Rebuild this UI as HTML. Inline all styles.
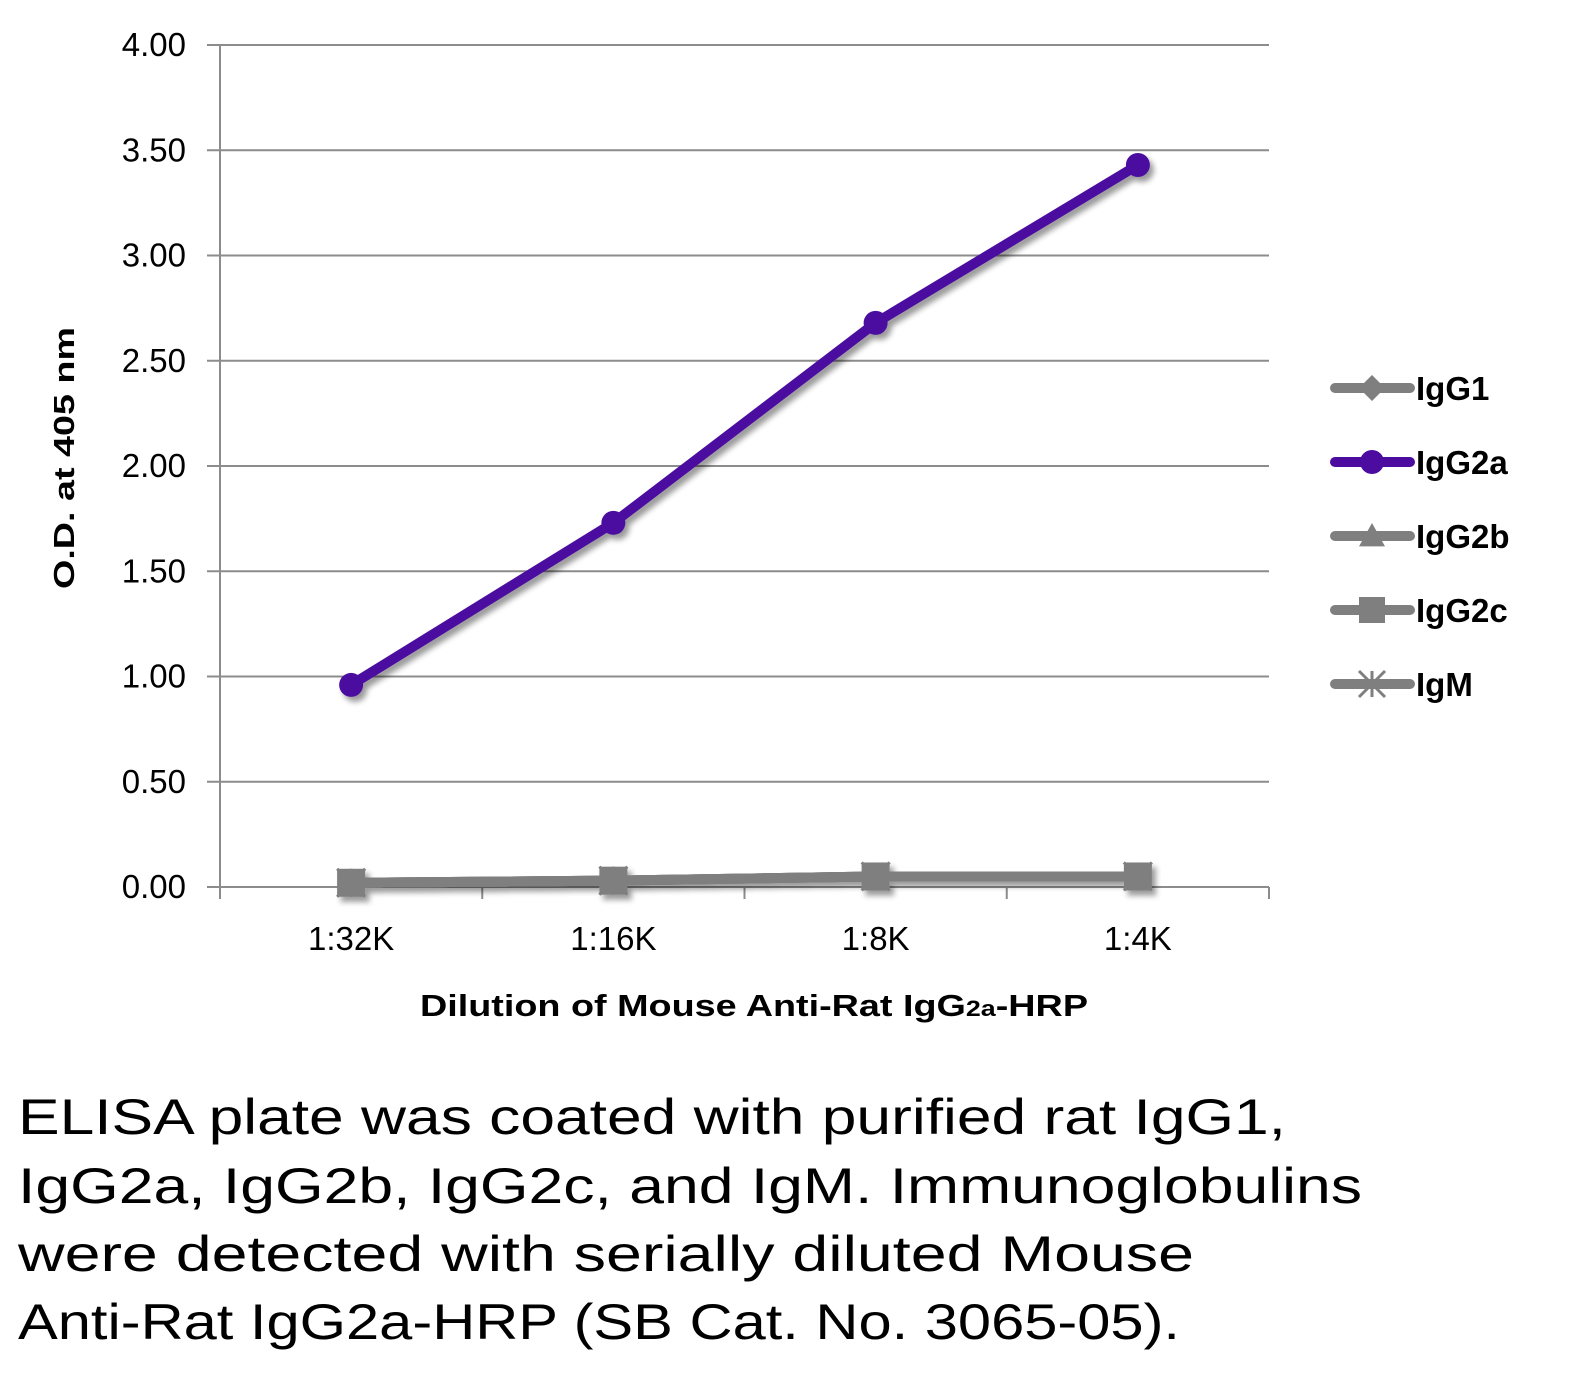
<!DOCTYPE html>
<html><head><meta charset="utf-8"><style>
html,body{margin:0;padding:0;background:#fff;}
svg{display:block;font-family:"Liberation Sans",sans-serif;}
</style></head><body>
<svg id="chart" width="1596" height="1392" viewBox="0 0 1596 1392">
<defs><filter id="sh" x="-50%" y="-50%" width="200%" height="200%"><feGaussianBlur in="SourceAlpha" stdDeviation="3"/><feOffset dx="4" dy="5"/><feComponentTransfer><feFuncA type="linear" slope="0.4"/></feComponentTransfer><feMerge><feMergeNode/><feMergeNode in="SourceGraphic"/></feMerge></filter></defs>
<g id="grid"></g>
<g id="yticks"></g>
<g id="xaxis"></g>
<g id="series" filter="url(#sh)"></g>
<text transform="translate(74,458) rotate(-90)" text-anchor="middle" font-size="29" font-weight="bold" textLength="262" lengthAdjust="spacingAndGlyphs">O.D. at 405 nm</text>
<text x="754" y="1016" text-anchor="middle" font-size="31" font-weight="bold" textLength="668" lengthAdjust="spacingAndGlyphs">Dilution of Mouse Anti-Rat IgG<tspan font-size="22">2a</tspan>-HRP</text>
<g id="legend"></g>
<g font-size="50" fill="#000">
<text x="18" y="1134" textLength="1268" lengthAdjust="spacingAndGlyphs">ELISA plate was coated with purified rat IgG1,</text>
<text x="18" y="1203" textLength="1344" lengthAdjust="spacingAndGlyphs">IgG2a, IgG2b, IgG2c, and IgM.  Immunoglobulins</text>
<text x="18" y="1271" textLength="1176" lengthAdjust="spacingAndGlyphs">were detected with serially diluted Mouse</text>
<text x="18" y="1339" textLength="1162" lengthAdjust="spacingAndGlyphs">Anti-Rat IgG2a-HRP (SB Cat. No. 3065-05).</text>
</g>
</svg>
<script>
const categories=["1:32K","1:16K","1:8K","1:4K"];
const yTicks=[0,0.5,1,1.5,2,2.5,3,3.5,4];
const seriesNames=["IgG1","IgG2a","IgG2b","IgG2c","IgM"];
const igg1=[0.02,0.03,0.05,0.05];
const igg2a=[0.96,1.73,2.68,3.43];
const igg2b=[0.02,0.03,0.05,0.05];
const igg2c=[0.02,0.03,0.05,0.05];
const igm=[0.02,0.03,0.05,0.05];
const NS="http://www.w3.org/2000/svg";
const X0=220,X1=1269,Y0=887,Y4=45;
const band=(X1-X0)/categories.length;
const xs=i=>X0+band*(i+0.5);
const ys=v=>Y0-(v/4)*(Y0-Y4);
function mk(t,a,p){const e=document.createElementNS(NS,t);for(const k in a)e.setAttribute(k,a[k]);p.appendChild(e);return e;}
const grid=document.getElementById('grid'),yt=document.getElementById('yticks'),xa=document.getElementById('xaxis');
yTicks.forEach(v=>{
 const l=mk('line',{x1:207,x2:X1,y1:ys(v),y2:ys(v),stroke:'#8c8c8c','stroke-width':2},grid);
 
 
 const t=mk('text',{x:186,y:ys(v)+11,'text-anchor':'end','font-size':33},yt);
 t.textContent=v.toFixed(2);
 
 
});
mk('line',{x1:X0,x2:X0,y1:Y4,y2:Y0,stroke:'#8c8c8c','stroke-width':2},yt);
for(let i=0;i<=categories.length;i++){mk('line',{x1:X0+band*i,x2:X0+band*i,y1:Y0,y2:Y0+12,stroke:'#8c8c8c','stroke-width':2},xa);}
categories.forEach((c,i)=>{
 const t=mk('text',{x:xs(i),y:950,'text-anchor':'middle','font-size':33},xa);
 t.textContent=c;
 
 
});
const sg=document.getElementById('series');
const gray='#7f7f7f',purple='#4b0c9f';
function marker(type,x,y,col,p,s){
 if(type==='circle')return mk('circle',{cx:x,cy:y,r:s,fill:col},p);
 if(type==='square')return mk('rect',{x:x-s,y:y-s,width:2*s,height:2*s,fill:col},p);
 if(type==='diamond')return mk('polygon',{points:`${x},${y-s} ${x+s},${y} ${x},${y+s} ${x-s},${y}`,fill:col},p);
 if(type==='triangle')return mk('polygon',{points:`${x},${y-s} ${x+s},${y+s*0.8} ${x-s},${y+s*0.8}`,fill:col},p);
 const g=mk('g',{stroke:col,'stroke-width':3},p);
 mk('line',{x1:x-s,y1:y-s,x2:x+s,y2:y+s},g);mk('line',{x1:x-s,y1:y+s,x2:x+s,y2:y-s},g);mk('line',{x1:x,y1:y-s,x2:x,y2:y+s},g);
 return g;
}
const defs=[[igg1,'diamond',gray],[igg2b,'triangle',gray],[igm,'star',gray],[igg2c,'square',gray],[igg2a,'circle',purple]];
defs.forEach(([vals,m,col])=>{
 const g=mk('g',{},sg);
 
 
 mk('polyline',{points:vals.map((v,i)=>xs(i)+','+ys(v)).join(' '),fill:'none',stroke:col,'stroke-width':10,'stroke-linejoin':'round'},g);
 vals.forEach((v,i)=>{
  const e=marker(m,xs(i),ys(v),col,g,m==='circle'?12:14);
  
  
 });
});
const lg=document.getElementById('legend');
const lm=['diamond','circle','triangle','square','star'];
seriesNames.forEach((n,i)=>{
 const y=388+i*74,col=n==='IgG2a'?purple:gray;
 const g=mk('g',{},lg);
 
 
 mk('line',{x1:1335,x2:1410,y1:y,y2:y,stroke:col,'stroke-width':10,'stroke-linecap':'round'},g);
 marker(lm[i],1372,y,col,g,lm[i]==='circle'?12:13);
 const t=mk('text',{x:1416,y:y+12,'font-size':33,'font-weight':'bold'},g);
 t.textContent=n;
});
</script>
</body></html>
